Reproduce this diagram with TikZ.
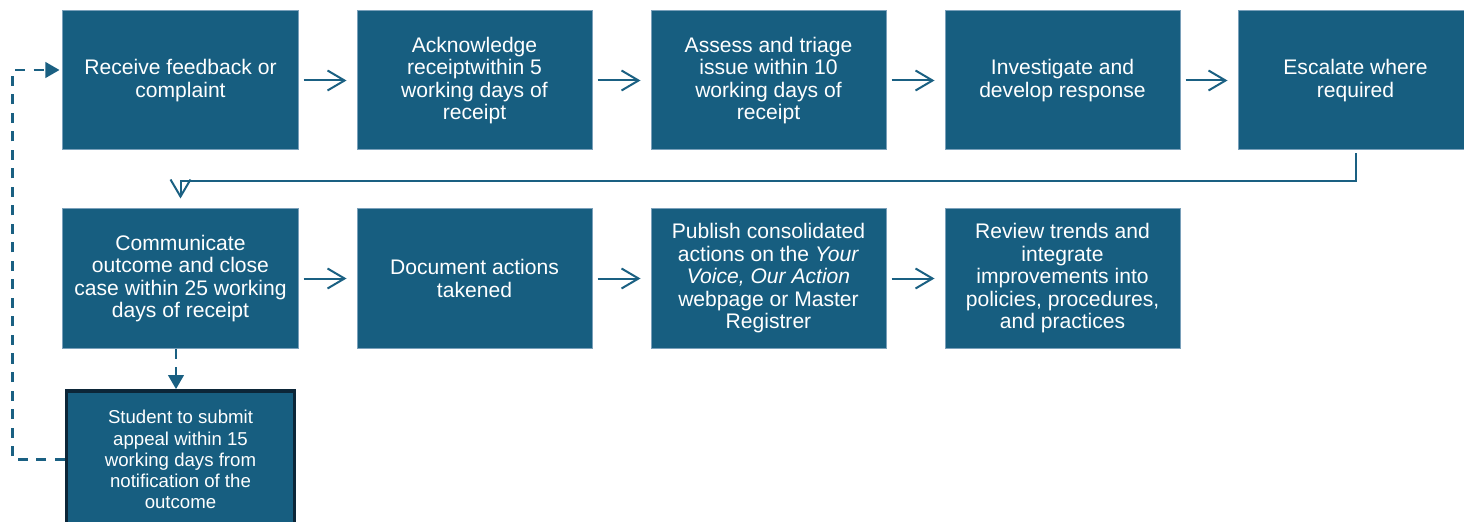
\documentclass[tikz,border=0pt]{standalone}
\usepackage{fontspec}
\setmainfont{Liberation Sans}
\usetikzlibrary{arrows.meta, positioning}
\definecolor{StageBlue}{RGB}{23, 94, 128}
\definecolor{StageEdge}{RGB}{122, 160, 186}
\definecolor{AppealEdge}{RGB}{12, 38, 56}
\definecolor{FlowBlue}{RGB}{26, 96, 130}

\begin{document}
\begin{tikzpicture}[x=0.2mm, y=-0.2mm,
    stage/.style={draw=StageEdge, fill=StageBlue, text=white, line width=0.2mm,
                  minimum width=47mm, minimum height=27.8mm, inner sep=0pt,
                  align=center, font=\fontsize{12}{12.8}\selectfont},
    appeal/.style={stage, draw=AppealEdge, line width=0.75mm,
                   minimum width=45.6mm, minimum height=27.4mm,
                   font=\fontsize{10.6}{12}\selectfont},
    flow/.style={draw=FlowBlue, line width=0.4mm, -{Straight Barb[length=3.4mm, width=4mm]}},
    loopflow/.style={draw=FlowBlue, line width=0.46mm, dash pattern=on 2mm off 1.7mm,
                     -{Triangle[length=2.8mm, width=3.1mm]}}]
    \useasboundingbox (0,0) rectangle (1464,522);

    % Top row
    \node[stage] (recv)   at (180.5, 80.5)  {Receive feedback or\\complaint};
    \node[stage] (ack)    at (474.5, 80.5)  {Acknowledge\\receiptwithin 5\\working days of\\receipt};
    \node[stage] (triage) at (768.5, 80.5)  {Assess and triage\\issue within 10\\working days of\\receipt};
    \node[stage] (invest) at (1062.5, 80.5) {Investigate and\\develop response};
    \node[stage] (esc)    at (1355.5, 80.5) {Escalate where\\required};

    % Second row
    \node[stage] (comm)   at (180.5, 278.5)  {Communicate\\outcome and close\\case within 25 working\\days of receipt};
    \node[stage] (doc)    at (474.5, 278.5)  {Document actions\\takened};
    \node[stage] (pub)    at (768.5, 278.5)  {Publish consolidated\\actions on the \textit{Your}\\\textit{Voice, Our Action}\\webpage or Master\\Registrer};
    \node[stage] (review) at (1062.5, 278.5) {Review trends and\\integrate\\improvements into\\policies, procedures,\\and practices};

    % Appeal step
    \node[appeal] (appeal) at (180.5, 459.5) {Student to submit\\appeal within 15\\working days from\\notification of the\\outcome};

    % Main flow
    \draw[flow, shorten <=1mm, shorten >=2mm] (recv) -- (ack);
    \draw[flow, shorten <=1mm, shorten >=2mm] (ack) -- (triage);
    \draw[flow, shorten <=1mm, shorten >=2mm] (triage) -- (invest);
    \draw[flow, shorten <=1mm, shorten >=2mm] (invest) -- (esc);
    \draw[flow, shorten <=0.6mm, shorten >=2mm] (esc.south) -- ++(0,30) -| (comm.north);
    \draw[flow, shorten <=1mm, shorten >=2mm] (comm) -- (doc);
    \draw[flow, shorten <=1mm, shorten >=2mm] (doc) -- (pub);
    \draw[flow, shorten <=1mm, shorten >=2mm] (pub) -- (review);

    % Appeal loop (dashed)
    \draw[loopflow] ([xshift=-0.9mm]comm.south) -- ([xshift=-0.9mm]appeal.north);
    \draw[loopflow, shorten >=0.6mm] (appeal.west) -- ++(-52,0) |- ([yshift=2.1mm]recv.west);
\end{tikzpicture}
\end{document}
